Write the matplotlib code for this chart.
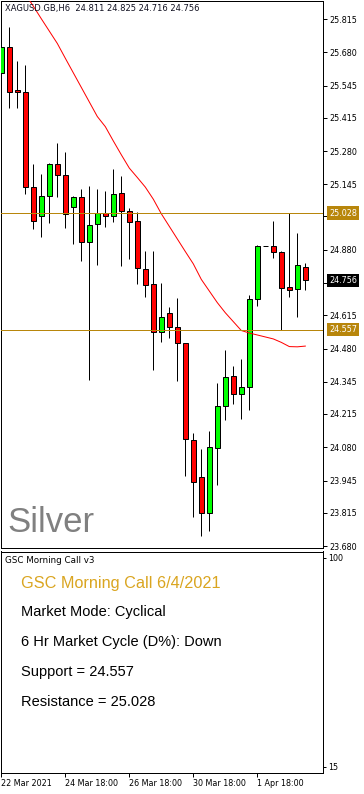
import matplotlib
matplotlib.use('Agg')
import matplotlib.pyplot as plt

plt.rcParams['font.family'] = ['DejaVu Sans']

# XAGUSD H6 candles
opens = [25.595, 25.700, 25.526, 25.518, 25.133, 25.016, 25.097, 25.226, 25.183, 25.052,
         25.093, 24.910, 24.983, 25.028, 25.016, 25.110, 25.038, 24.995, 24.801, 24.740,
         24.546, 24.623, 24.566, 24.501, 24.108, 23.960, 23.813, 24.076, 24.246, 24.368,
         24.295, 24.323, 24.680, 24.894, 24.894, 24.870, 24.728, 24.720, 24.811]
highs = [25.746, 25.784, 25.645, 25.629, 25.228, 25.187, 25.230, 25.312, 25.277, 25.098,
         25.125, 25.138, 25.125, 25.118, 25.207, 25.179, 25.048, 25.034, 24.875, 24.875,
         24.744, 24.650, 24.686, 24.503, 24.137, 24.073, 24.146, 24.341, 24.474, 24.409,
         24.438, 24.697, 24.901, 24.894, 24.997, 24.876, 25.028, 24.948, 24.825]
lows = [25.495, 25.453, 25.456, 25.105, 24.963, 24.931, 24.987, 25.095, 24.970, 24.904,
        24.836, 24.353, 24.820, 24.974, 24.991, 24.816, 24.844, 24.742, 24.690, 24.393,
        24.508, 24.522, 24.350, 23.965, 23.799, 23.722, 23.742, 23.929, 24.192, 24.257,
        24.196, 24.231, 24.654, 24.894, 24.848, 24.557, 24.689, 24.609, 24.716]
closes = [25.703, 25.521, 25.518, 25.133, 24.995, 25.097, 25.226, 25.182, 25.024, 25.093,
          24.910, 24.979, 25.029, 25.016, 25.106, 25.038, 24.994, 24.805, 24.736, 24.548,
          24.608, 24.566, 24.501, 24.112, 23.938, 23.813, 24.080, 24.246, 24.364, 24.295,
          24.323, 24.680, 24.894, 24.894, 24.870, 24.727, 24.716, 24.817, 24.756]

# moving average, starting at candle 3
ma_start = 3
ma = [25.916, 25.867, 25.816, 25.766, 25.716, 25.656, 25.597, 25.538, 25.479, 25.420,
      25.379, 25.321, 25.265, 25.211, 25.173, 25.134, 25.085, 25.026, 24.975, 24.924,
      24.873, 24.823, 24.760, 24.713, 24.666, 24.625, 24.589, 24.553, 24.543, 24.535,
      24.527, 24.519, 24.505, 24.488, 24.487, 24.490]

support = 24.557
resistance = 25.028
last_price = 24.756

price_ticks = [25.815, 25.680, 25.545, 25.415, 25.280, 25.145, 25.015, 24.880, 24.745,
               24.615, 24.480, 24.345, 24.215, 24.080, 23.945, 23.815, 23.680]
hidden_ticks = [25.015, 24.745]  # covered by the price boxes
time_pos = [0, 8, 16, 24, 32]
time_labels = ['22 Mar 2021', '24 Mar 18:00', '26 Mar 18:00', '30 Mar 18:00', '1 Apr 18:00']

panel_lines = ['Market Mode: Cyclical', '6 Hr Market Cycle (D%): Down',
               'Support = 24.557', 'Resistance = 25.028']

W, H = 364, 794
gold = '#B8860B'
lw = 0.72

fig = plt.figure(figsize=(W / 100, H / 100), dpi=100)
ax = fig.add_axes([1 / W, 1 - 548 / H, 322 / W, 547 / H])
ax2 = fig.add_axes([1 / W, 1 - 773 / H, 322 / W, 221.5 / H])

for a in (ax, ax2):
    for s in a.spines.values():
        s.set_linewidth(lw)
        s.set_color('black')
    a.set_xlim(-0.04, 40.21)

# candles
idx = list(range(len(opens)))
ax.vlines(idx, lows, highs, color='black', linewidth=lw, zorder=2)
for i in idx:
    o, c = opens[i], closes[i]
    col = '#00FF00' if c > o else '#FF0000'
    ax.bar(i, abs(c - o), bottom=min(o, c), width=0.6, color=col,
           edgecolor='black', linewidth=lw, zorder=3)

ax.plot(range(ma_start, ma_start + len(ma)), ma, color='red', linewidth=lw, zorder=4)
ax.axhline(resistance, color=gold, linewidth=lw, zorder=5)
ax.axhline(support, color=gold, linewidth=lw, zorder=5)

ax.set_ylim(23.672, 25.888)
ax.set_xticks([])
ax.yaxis.tick_right()
ax.set_yticks(price_ticks)
ax.set_yticklabels(['' if t in hidden_ticks else f'{t:.3f}' for t in price_ticks])
ax.tick_params(axis='y', length=3, width=lw, pad=1.4, labelsize=5.8)

for val, fc in [(resistance, gold), (support, gold), (last_price, 'black')]:
    ax.annotate(f'{val:.3f}', xy=(1, val), xycoords=('axes fraction', 'data'),
                xytext=(4.3, 0), textcoords='offset points', ha='left', va='center',
                fontsize=5.8, color='white', annotation_clip=False, zorder=10,
                bbox=dict(boxstyle='square,pad=0.3', fc=fc, ec='none'))

fig.text(5 / W, 1 - 8 / H, 'XAGUSD.GB,H6  24.811 24.825 24.716 24.756',
         fontsize=6, va='center', ha='left', color='#101020')
fig.text(7 / W, 1 - 532 / H, 'Silver', fontsize=25, family='Liberation Sans',
         color='#808080', va='baseline', ha='left')

# indicator window
ax2.set_ylim(12.4, 102.6)
ax2.yaxis.tick_right()
ax2.set_yticks([15, 100])
ax2.set_yticklabels(['15', '100'])
ax2.tick_params(axis='y', length=2, width=lw, pad=2, labelsize=5.8)
ax2.set_xticks(time_pos)
ax2.set_xticklabels(time_labels)
ax2.tick_params(axis='x', length=3, width=lw, pad=1.5, labelsize=5.8)
for lbl in ax2.get_xticklabels():
    lbl.set_ha('left')

fig.text(5 / W, 1 - 560.5 / H, 'GSC Morning Call v3', fontsize=6.3, va='center', ha='left')
fig.text(21 / W, 1 - 588 / H, 'GSC Morning Call 6/4/2021', fontsize=11.7,
         family='Liberation Sans', color='#DAA520', va='baseline', ha='left')
for k, line in enumerate(panel_lines):
    fig.text(21 / W, 1 - (616 + 30 * k) / H, line, fontsize=10.5,
             family='Liberation Sans', color='black', va='baseline', ha='left')

fig.savefig('out.png', dpi=100)
